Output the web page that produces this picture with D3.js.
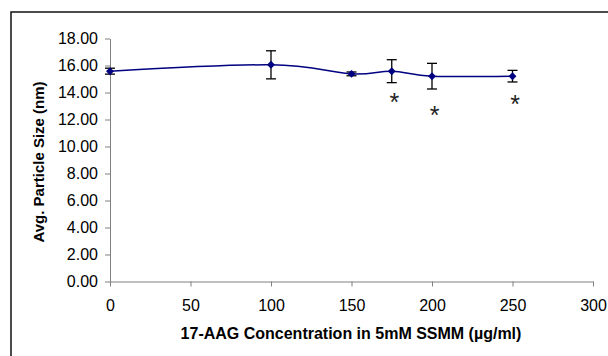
<!DOCTYPE html>
<html>
<head>
<meta charset="utf-8" />
<script src="https://cdn.jsdelivr.net/npm/d3@7"></script>
<style>
  body { margin: 0; background: #fff; }
  svg { font-family: 'Liberation Sans', Arial, sans-serif; }
</style>
</head>
<body>
<svg width="608" height="356"></svg>
<script>
// concentration (ug/ml), mean size (nm), error (+/-)
var conc = [0, 100, 150, 175, 200, 250];
var size = [15.58, 16.05, 15.38, 15.58, 15.21, 15.21];
var err = [0.22, 1.04, 0.14, 0.85, 0.95, 0.43];
// points marked as significant, and the level each asterisk sits at
var starred = [175, 200, 250];
var starLevel = [13.63, 12.7, 13.5];
var xTicks = [0, 50, 100, 150, 200, 250, 300];
var yTicks = [0, 2, 4, 6, 8, 10, 12, 14, 16, 18];

var svg = d3.select('svg');

// outer frame (only top + left edges visible in the picture)
svg.append('path')
  .attr('d', 'M11,356V12H608')
  .attr('fill', 'none')
  .attr('stroke', '#111')
  .attr('stroke-width', 1.5);

var x = d3.scaleLinear().domain([0, 300]).range([110, 593]);
var y = d3.scaleLinear().domain([0, 18]).range([281.5, 38.5]);

var axisColor = '#808080';

var xAxis = svg.append('g')
  .attr('transform', 'translate(0,' + y(0) + ')')
  .call(d3.axisBottom(x).tickValues(xTicks).tickSize(5).tickPadding(13).tickSizeOuter(0));
var yAxis = svg.append('g')
  .attr('transform', 'translate(' + x(0) + ',0)')
  .call(d3.axisLeft(y).tickValues(yTicks).tickSize(5).tickPadding(7).tickSizeOuter(0)
    .tickFormat(d3.format('.2f')));

[xAxis, yAxis].forEach(function (g) {
  g.select('.domain').attr('stroke', axisColor);
  g.selectAll('.tick line').attr('stroke', axisColor);
  g.selectAll('.tick text')
    .attr('fill', '#000')
    .style('font-size', '16px')
    .style('font-family', "'Liberation Sans', Arial, sans-serif");
});

// smoothed series line
var pts = conc.map(function (c, i) { return [x(c), y(size[i])]; });
svg.append('path')
  .attr('d', d3.line().curve(d3.curveCardinal.tension(0))(pts))
  .attr('fill', 'none')
  .attr('stroke', '#000080')
  .attr('stroke-width', 1.5);

// error bars
var eb = svg.append('g').attr('stroke', '#000').attr('stroke-width', 1.3);
conc.forEach(function (c, i) {
  var cx = x(c), top = y(size[i] + err[i]), bot = y(size[i] - err[i]);
  eb.append('line').attr('x1', cx).attr('x2', cx).attr('y1', top).attr('y2', bot);
  eb.append('line').attr('x1', cx - 5).attr('x2', cx + 5).attr('y1', top).attr('y2', top);
  eb.append('line').attr('x1', cx - 5).attr('x2', cx + 5).attr('y1', bot).attr('y2', bot);
});

// diamond markers
svg.append('g').selectAll('path')
  .data(conc)
  .enter().append('path')
  .attr('d', d3.symbol().type(d3.symbolDiamond2).size(40))
  .attr('transform', function (d, i) { return 'translate(' + x(d) + ',' + y(size[i]) + ')'; })
  .attr('fill', '#000080');

// asterisks (centre of glyph sits ~0.58em above baseline)
svg.append('g').selectAll('text')
  .data(starred)
  .enter().append('text')
  .attr('x', function (d) { return x(d) + 2.5; })
  .attr('y', function (d, i) { return y(starLevel[i]) + 14; })
  .attr('text-anchor', 'middle')
  .style('font-size', '25px')
  .attr('fill', '#222')
  .text('*');

// axis titles
svg.append('text')
  .attr('x', 351)
  .attr('y', 339)
  .attr('text-anchor', 'middle')
  .style('font-size', '16px')
  .style('font-weight', 'bold')
  .text('17-AAG Concentration in 5mM SSMM (\u00b5g/ml)');

svg.append('text')
  .attr('transform', 'translate(44,162) rotate(-90)')
  .attr('text-anchor', 'middle')
  .style('font-size', '15px')
  .style('font-weight', 'bold')
  .text('Avg. Particle Size (nm)');
</script>
</body>
</html>
